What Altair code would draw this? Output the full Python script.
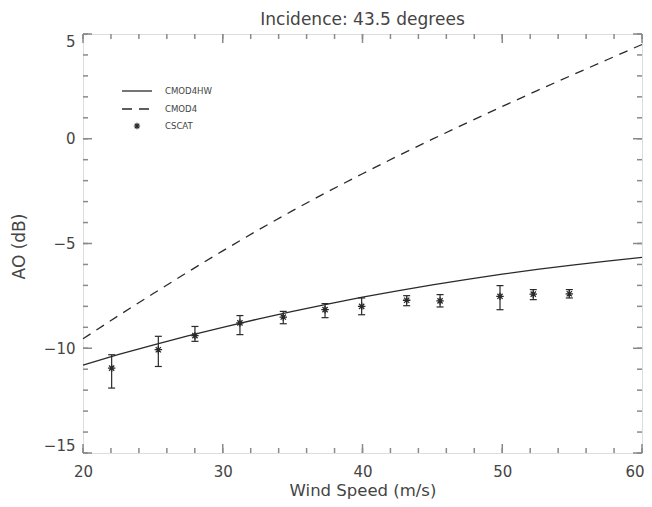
import altair as alt
import pandas as pd

# ---------------- data ----------------
ws_model = [20, 22.5, 25, 27.5, 30, 32.5, 35, 37.5, 40, 42.5, 45, 47.5, 50, 52.5, 55, 57.5, 60]
cmod4hw = [-10.8, -10.31, -9.85, -9.41, -9.0, -8.61, -8.24, -7.89, -7.56, -7.26, -6.98,
           -6.71, -6.46, -6.24, -6.03, -5.84, -5.66]
cmod4 = [-9.55, -8.46, -7.4, -6.36, -5.35, -4.37, -3.43, -2.53, -1.67, -0.83, -0.02,
         0.77, 1.54, 2.3, 3.04, 3.77, 4.5]

ws_obs = [22.05, 25.39, 28.01, 31.23, 34.33, 37.32, 39.94, 43.16, 45.55, 49.84, 52.22, 54.80]
cscat = [-10.95, -10.07, -9.4, -8.79, -8.51, -8.16, -8.0, -7.71, -7.74, -7.52, -7.42, -7.4]
cscat_hi = [-10.31, -9.43, -8.96, -8.44, -8.24, -7.87, -7.6, -7.49, -7.44, -7.01, -7.2, -7.2]
cscat_lo = [-11.9, -10.87, -9.67, -9.35, -8.83, -8.54, -8.4, -7.97, -8.03, -8.16, -7.68, -7.6]

x_major = [20, 30, 40, 50, 60]
x_minor = list(range(20, 61, 2))
y_major = [-15, -10, -5, 0, 5]
y_minor = list(range(-15, 6))

series = ["CMOD4HW", "CMOD4", "CSCAT"]
title_text = "Incidence: 43.5 degrees"
x_title = "Wind Speed (m/s)"
y_title = "AO (dB)"

# ---------------- style ----------------
W, H = 559, 419
FONT = "DejaVu Sans"
LFONT = "Liberation Sans Narrow, DejaVu Sans Condensed, Liberation Sans, sans-serif"
TXT = "#444444"
LINE = "#2a2a2a"
FRAME = "#8a8a8a"
STAR = "M-1,0L1,0M0,-1L0,1M-0.7,-0.7L0.7,0.7M-0.7,0.7L0.7,-0.7"
CAP = "M-1,0L1,0"
DASH = [9, 7]

model_df = pd.DataFrame({"ws": ws_model, "hw": cmod4hw, "c4": cmod4})
obs_df = pd.DataFrame({"ws": ws_obs, "val": cscat, "hi": cscat_hi, "lo": cscat_lo})

xscale = alt.Scale(domain=[20, 60], nice=False, zero=False)
yscale = alt.Scale(domain=[-15, 5], nice=False, zero=False)

xaxis = alt.Axis(values=x_major, format="d", ticks=False, domain=False, grid=False,
                 title=x_title, labelFont=FONT, labelFontSize=15, labelColor=TXT,
                 labelPadding=11, labelFlush=False,
                 labelAlign={"expr": "datum.value == 60 ? 'right' : 'center'"},
                 labelOffset={"expr": "datum.value == 60 ? 2 : 0"},
                 titleFont=FONT, titleFontSize=16.5, titleFontWeight="normal",
                 titleColor=TXT, titleX=W / 2, titleY=42, titleBaseline="alphabetic",
                 titleAlign="center")
yaxis = alt.Axis(values=y_major, format="d", ticks=False, domain=False, grid=False,
                 title=y_title, labelFont=FONT, labelFontSize=15, labelColor=TXT,
                 labelPadding=8, labelFlush=True,
                 titleFont=FONT, titleFontSize=17, titleFontWeight="normal",
                 titleColor=TXT, titleX=-64, titleY=212, titleBaseline="middle",
                 titleAlign="center")


def X(f):
    return alt.X(f"{f}:Q", scale=xscale, axis=xaxis)


def Y(f):
    return alt.Y(f"{f}:Q", scale=yscale, axis=yaxis)


hw_line = alt.Chart(model_df).mark_line(color=LINE, strokeWidth=1.3).encode(x=X("ws"), y=Y("hw"))
c4_line = alt.Chart(model_df).mark_line(color=LINE, strokeWidth=1.3, strokeDash=DASH).encode(
    x=X("ws"), y=Y("c4"))

err = alt.Chart(obs_df).mark_rule(color=LINE, strokeWidth=1.2).encode(
    x=X("ws"), y=Y("lo"), y2="hi")
cap_lo = alt.Chart(obs_df).mark_point(shape=CAP, size=49, filled=False, color=LINE,
                                      strokeWidth=1.2, opacity=1).encode(x=X("ws"), y=Y("lo"))
cap_hi = alt.Chart(obs_df).mark_point(shape=CAP, size=49, filled=False, color=LINE,
                                      strokeWidth=1.2, opacity=1).encode(x=X("ws"), y=Y("hi"))
stars = alt.Chart(obs_df).mark_point(shape=STAR, size=56, filled=False, color=LINE,
                                     strokeWidth=1.3, opacity=1).encode(x=X("ws"), y=Y("val"))

# inward ticks on all four sides
xmaj_df = pd.DataFrame({"ws": x_major})
xmin_df = pd.DataFrame({"ws": x_minor})
ymaj_df = pd.DataFrame({"val": y_major})
ymin_df = pd.DataFrame({"val": y_minor})
tick_style = dict(color=FRAME, strokeWidth=1.5)

ticks = [
    alt.Chart(xmaj_df).mark_rule(**tick_style).encode(x=X("ws"), y=alt.value(H), y2=alt.value(H - 9)),
    alt.Chart(xmaj_df).mark_rule(**tick_style).encode(x=X("ws"), y=alt.value(0), y2=alt.value(9)),
    alt.Chart(xmin_df).mark_rule(**tick_style).encode(x=X("ws"), y=alt.value(H), y2=alt.value(H - 5)),
    alt.Chart(xmin_df).mark_rule(**tick_style).encode(x=X("ws"), y=alt.value(0), y2=alt.value(5)),
    alt.Chart(ymaj_df).mark_rule(**tick_style).encode(y=Y("val"), x=alt.value(0), x2=alt.value(9)),
    alt.Chart(ymaj_df).mark_rule(**tick_style).encode(y=Y("val"), x=alt.value(W), x2=alt.value(W - 9)),
    alt.Chart(ymin_df).mark_rule(**tick_style).encode(y=Y("val"), x=alt.value(0), x2=alt.value(5)),
    alt.Chart(ymin_df).mark_rule(**tick_style).encode(y=Y("val"), x=alt.value(W), x2=alt.value(W - 5)),
]

# legend (inside plot, top-left)
one = alt.Data(values=[{"k": 1}])
leg = [
    alt.Chart(one).mark_rule(color=LINE, strokeWidth=1.3).encode(
        x=alt.value(39), x2=alt.value(69), y=alt.value(57)),
    alt.Chart(one).mark_rule(color=LINE, strokeWidth=1.3, strokeDash=[10, 7]).encode(
        x=alt.value(39), x2=alt.value(69), y=alt.value(75)),
    alt.Chart(one).mark_point(shape=STAR, size=40, filled=False, color=LINE,
                              strokeWidth=1.2, opacity=1).encode(
        x=alt.value(54), y=alt.value(92)),
]
for i, yy in enumerate([57, 75, 92]):
    leg.append(alt.Chart(one).mark_text(align="left", baseline="middle", font=LFONT,
                                        fontSize=9.5, color=TXT).encode(
        x=alt.value(82), y=alt.value(yy), text=alt.value(series[i])))

chart = alt.layer(hw_line, c4_line, err, cap_lo, cap_hi, stars, *ticks, *leg).properties(
    width=W, height=H,
    title=alt.TitleParams(title_text, anchor="middle", font=FONT, fontSize=17,
                          fontWeight="normal", color=TXT, offset=7, baseline="alphabetic",
                          frame="group", dy=16),
    padding={"left": 75, "top": 26, "right": 2, "bottom": 46},
    autosize=alt.AutoSizeParams(type="none"),
).configure_view(stroke=FRAME, strokeWidth=2).configure(background="white")

chart.save("out.html", embed_options={"renderer": "svg", "actions": False})
